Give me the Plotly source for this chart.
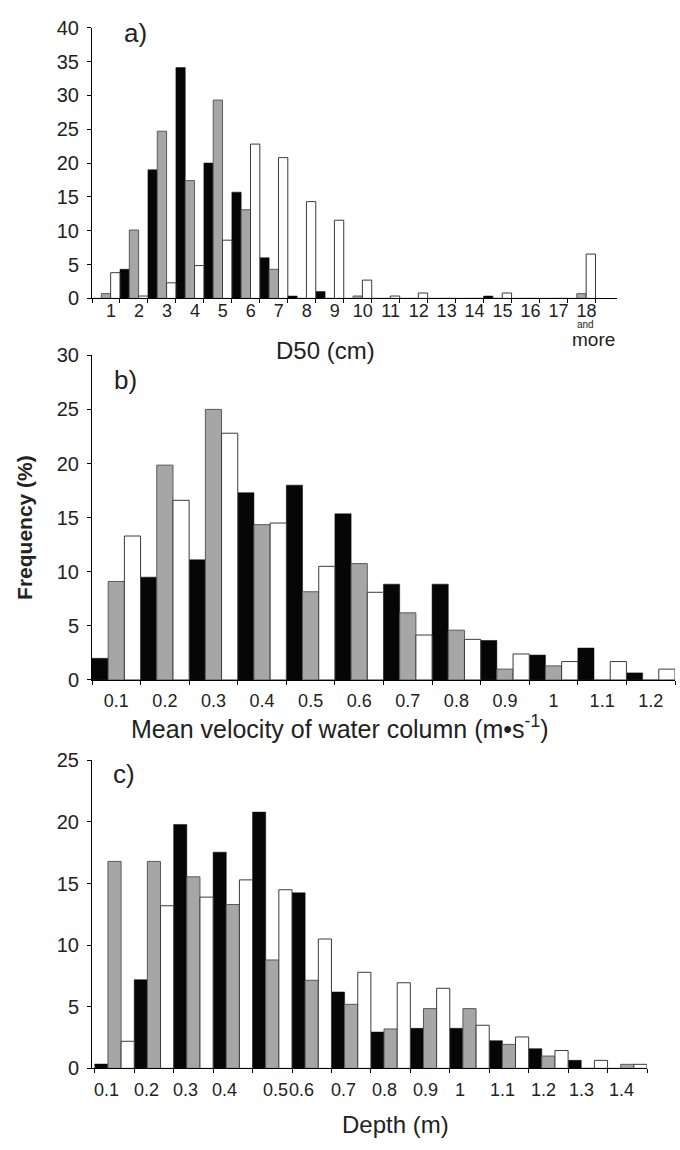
import plotly.graph_objects as go

# ---------------- data ----------------
# Panel a: D50 (cm)
a_cats = [str(i) for i in range(1, 19)]
a_black = [0, 4.3, 19.0, 34.1, 20.0, 15.7, 6.0, 0.35, 1.0, 0, 0, 0, 0, 0, 0.35, 0, 0, 0]
a_gray = [0.7, 10.1, 24.7, 17.4, 29.3, 13.1, 4.3, 0, 0, 0.35, 0, 0, 0, 0, 0, 0, 0, 0.7]
a_white = [3.8, 0.35, 2.3, 4.85, 8.6, 22.8, 20.8, 14.3, 11.55, 2.7, 0.35, 0.8, 0, 0, 0.8, 0, 0, 6.55]

# Panel b: mean velocity of water column
b_cats = ["0.1", "0.2", "0.3", "0.4", "0.5", "0.6", "0.7", "0.8", "0.9", "1", "1.1", "1.2"]
b_black = [2.0, 9.5, 11.1, 17.3, 18.0, 15.35, 8.85, 8.85, 3.65, 2.3, 2.95, 0.65]
b_gray = [9.1, 19.85, 25.0, 14.35, 8.15, 10.75, 6.2, 4.6, 1.0, 1.3, 0, 0]
b_white = [13.3, 16.6, 22.8, 14.5, 10.5, 8.1, 4.15, 3.75, 2.4, 1.7, 1.7, 1.0]

# Panel c: depth
c_cats = ["0.1", "0.2", "0.3", "0.4", "0.5", "0.6", "0.7", "0.8", "0.9", "1", "1.1", "1.2", "1.3", "1.4"]
c_black = [0.35, 7.2, 19.8, 17.55, 20.8, 14.25, 6.2, 2.95, 3.25, 3.25, 2.25, 1.6, 0.65, 0]
c_gray = [16.8, 16.8, 15.55, 13.3, 8.8, 7.15, 5.2, 3.2, 4.85, 4.85, 1.95, 1.0, 0, 0.33]
c_white = [2.2, 13.2, 13.9, 15.3, 14.5, 10.5, 7.8, 6.95, 6.5, 3.5, 2.55, 1.45, 0.65, 0.33]

# ---------------- style / layout constants ----------------
W, H = 680, 1150
FONT = "Liberation Sans, Arial, Helvetica, sans-serif"
BLACK = "#060606"
GRAY = "#a6a6a6"
GRAY_LINE = "#5a5a5a"
WHITE_LINE = "#3a3a3a"
TXT = "#222222"
c_label_shift = [-8, -7, -8, -8, 3, -10, -8, -6, -5, -10, -6, -5, -6, -6]


def px(x):
    return x / W


def py(y):
    return 1 - y / H


fig = go.Figure()

panels = [
    (a_cats, a_black, a_gray, a_white, "x", "y"),
    (b_cats, b_black, b_gray, b_white, "x2", "y2"),
    (c_cats, c_black, c_gray, c_white, "x3", "y3"),
]
for cats, bl, gr, wh, xa, ya in panels:
    fig.add_trace(go.Bar(x=cats, y=bl, xaxis=xa, yaxis=ya,
                         marker=dict(color=BLACK, line=dict(color=BLACK, width=0.5))))
    fig.add_trace(go.Bar(x=cats, y=gr, xaxis=xa, yaxis=ya,
                         marker=dict(color=GRAY, line=dict(color=GRAY_LINE, width=1))))
    fig.add_trace(go.Bar(x=cats, y=wh, xaxis=xa, yaxis=ya,
                         marker=dict(color="white", line=dict(color=WHITE_LINE, width=1))))

xcommon = dict(type="category", tickson="boundaries", ticks="outside", ticklen=4,
               tickcolor="black", showline=True, linecolor="black", linewidth=1,
               showgrid=False, zeroline=False, tickangle=0,
               tickfont=dict(size=18, color=TXT, family=FONT), fixedrange=True)
ycommon = dict(ticks="outside", ticklen=4, tickcolor="black", showline=True,
               linecolor="black", linewidth=1, showgrid=False, zeroline=False,
               tickfont=dict(size=20, color=TXT, family=FONT), dtick=5,
               ticklabelstandoff=4, fixedrange=True)

fig.update_layout(
    width=W, height=H,
    margin=dict(l=0, r=0, t=0, b=0),
    paper_bgcolor="white", plot_bgcolor="white",
    showlegend=False, barmode="group", bargap=0, bargroupgap=0,
    font=dict(family=FONT, color=TXT),
    xaxis=dict(xcommon, domain=[px(92), px(617)], anchor="y", ticklabelshift=5,
               ticklabelstandoff=-4),
    yaxis=dict(ycommon, domain=[py(293), py(17)], range=[0, 40], anchor="x"),
    xaxis2=dict(xcommon, domain=[px(92), px(675)], anchor="y2", ticklabelstandoff=4),
    yaxis2=dict(ycommon, domain=[py(682), py(351)], range=[0, 30], anchor="x2"),
    xaxis3=dict(xcommon, domain=[px(92), px(647)], anchor="y3", showticklabels=False),
    yaxis3=dict(ycommon, domain=[py(1078), py(764)], range=[0, 25], anchor="x3"),
)

ann = []


def txt(text, x, y, size, **kw):
    d = dict(text=text, x=px(x), y=py(y), xref="paper", yref="paper",
             showarrow=False, xanchor="center", yanchor="middle",
             font=dict(size=size, family=FONT, color=TXT))
    d.update(kw)
    ann.append(d)


# panel letters
txt("a)", 135, 22, 26)
txt("b)", 125, 376, 26)
txt("c)", 124, 778, 26)
# axis titles
txt("D50 (cm)", 325, 346, 24)
txt("Mean velocity of water column (m•s<sup>-1</sup>)", 340, 730, 25)
txt("Depth (m)", 395, 1135, 24)
txt("<b>Frequency (%)</b>", 25, 527, 21, textangle=-90)

# "and more" under the last category of panel a (category index positions)
last_a = len(a_cats) - 1
ann.append(dict(text="and", x=last_a, xref="x", y=py(320), yref="paper",
                showarrow=False, xanchor="center", yanchor="middle", xshift=4,
                font=dict(size=10, family=FONT, color=TXT)))
ann.append(dict(text="more", x=last_a, xref="x", y=py(335), yref="paper",
                showarrow=False, xanchor="center", yanchor="middle", xshift=12,
                font=dict(size=19, family=FONT, color=TXT)))

# panel c tick labels (placed at category indices)
for i, (lab, sh) in enumerate(zip(c_cats, c_label_shift)):
    ann.append(dict(text=lab, x=i, xref="x3", y=py(1100), yref="paper",
                    showarrow=False, xanchor="center", yanchor="middle", xshift=sh,
                    font=dict(size=18, family=FONT, color=TXT)))

fig.update_layout(annotations=ann)
fig.write_html("out.html",
               config={"displayModeBar": False, "staticPlot": True},
               post_script="document.body.style.margin='0';document.body.style.overflow='hidden';")
